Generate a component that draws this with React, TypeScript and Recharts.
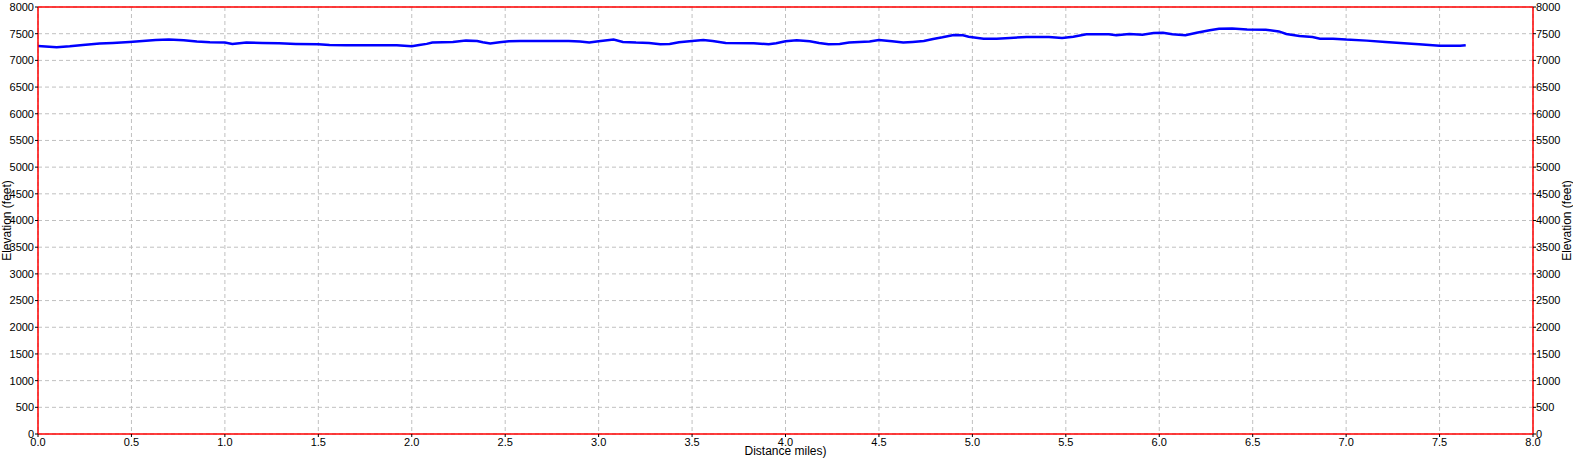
import { LineChart, Line, XAxis, YAxis, CartesianGrid, ReferenceLine } from 'recharts'

// distance along the trail (miles) and elevation (feet)
const distance = [
  0, 0.1, 0.17, 0.24, 0.33, 0.4, 0.49, 0.56, 0.63, 0.7, 0.78, 0.85, 0.92, 1.0, 1.04, 1.115, 1.2, 1.29,
  1.38, 1.5, 1.56, 1.65, 1.92, 2.0, 2.04, 2.08, 2.11, 2.22, 2.29, 2.35, 2.38, 2.42, 2.47, 2.52, 2.58,
  2.84, 2.9, 2.95, 3.0, 3.08, 3.13, 3.2, 3.27, 3.33, 3.38, 3.43, 3.5, 3.56, 3.61, 3.68, 3.83, 3.91,
  3.95, 4.0, 4.06, 4.13, 4.18, 4.23, 4.29, 4.34, 4.45, 4.5, 4.57, 4.63, 4.68, 4.74, 4.79, 4.84, 4.9,
  4.95, 4.98, 5.06, 5.13, 5.2, 5.29, 5.41, 5.48, 5.54, 5.61, 5.73, 5.77, 5.84, 5.91, 5.97, 6.02, 6.07,
  6.14, 6.2, 6.27, 6.32, 6.39, 6.47, 6.57, 6.64, 6.68, 6.75, 6.82, 6.86, 6.93, 7.0, 7.11, 7.21, 7.29,
  7.39, 7.5, 7.61, 7.64,
]
const elevation = [
  7268, 7247, 7265, 7290, 7315, 7327, 7346, 7364, 7383, 7389, 7377, 7352, 7340, 7333, 7309, 7333, 7327,
  7321, 7309, 7302, 7290, 7284, 7284, 7265, 7288, 7309, 7333, 7346, 7370, 7364, 7340, 7315, 7340, 7358,
  7364, 7364, 7352, 7333, 7358, 7389, 7346, 7333, 7327, 7302, 7309, 7340, 7364, 7383, 7364, 7327, 7321,
  7302, 7321, 7358, 7377, 7358, 7327, 7302, 7309, 7333, 7352, 7383, 7358, 7333, 7346, 7364, 7401, 7432,
  7475, 7469, 7444, 7407, 7407, 7420, 7438, 7438, 7420, 7444, 7488, 7488, 7469, 7494, 7481, 7512, 7518,
  7488, 7469, 7518, 7565, 7593, 7599, 7580, 7574, 7543, 7494, 7457, 7438, 7407, 7407, 7389, 7370, 7346,
  7327, 7302, 7272, 7272, 7284,
]
const xTicks = [0, 0.5, 1, 1.5, 2, 2.5, 3, 3.5, 4, 4.5, 5, 5.5, 6, 6.5, 7, 7.5, 8]
const yTicks = [
  0, 500, 1000, 1500, 2000, 2500, 3000, 3500, 4000, 4500, 5000, 5500, 6000, 6500, 7000, 7500, 8000,
]

const data = distance.map((d, i) => ({ d, elev: elevation[i] }))

const RED = '#ff0000'
const tick = { fill: '#000', fontSize: 11 }
const titleStyle = { fill: '#000', fontSize: 12, textAnchor: 'middle' as const }

export default function App() {
  return (
    <div style={{ position: 'absolute', left: 0, top: 0, background: '#fff', fontFamily: '"Liberation Sans", Arial, sans-serif' }}>
      <LineChart width={1573} height={459} data={data} margin={{ top: 7, right: 0, bottom: 0, left: 0 }}>
        <CartesianGrid yAxisId="left" stroke="#c0c0c0" strokeDasharray="4 3" />
        <XAxis
          dataKey="d"
          type="number"
          domain={[0, 8]}
          ticks={xTicks}
          tickFormatter={(v) => v.toFixed(1)}
          height={25}
          tick={tick}
          tickSize={3}
          tickMargin={1}
          interval={0}
          axisLine={{ stroke: RED, strokeWidth: 1.5 }}
          tickLine={{ stroke: '#000' }}
          label={{ value: 'Distance miles)', position: 'insideBottom', offset: 4, style: titleStyle }}
        />
        <YAxis
          yAxisId="left"
          domain={[0, 8000]}
          ticks={yTicks}
          interval={0}
          width={38}
          tick={tick}
          tickSize={3}
          tickMargin={1}
          axisLine={{ stroke: RED, strokeWidth: 1.5 }}
          tickLine={{ stroke: '#000' }}
          label={{ value: 'Elevation (feet)', angle: -90, position: 'insideLeft', offset: 7, style: titleStyle }}
        />
        <YAxis
          yAxisId="right"
          orientation="right"
          domain={[0, 8000]}
          ticks={yTicks}
          interval={0}
          width={40}
          tick={tick}
          tickSize={3}
          tickMargin={0}
          axisLine={{ stroke: RED, strokeWidth: 1.5 }}
          tickLine={{ stroke: '#000' }}
          label={{ value: 'Elevation (feet)', angle: -90, position: 'insideRight', offset: 6, style: titleStyle }}
        />
        <ReferenceLine yAxisId="left" y={8000} stroke={RED} strokeWidth={1.5} />
        {/* invisible copy so the right axis has a series bound to it */}
        <Line
          yAxisId="right"
          dataKey="elev"
          stroke="none"
          dot={false}
          activeDot={false}
          legendType="none"
          isAnimationActive={false}
        />
        <Line
          yAxisId="left"
          dataKey="elev"
          type="linear"
          stroke="#0000ff"
          strokeWidth={2.5}
          dot={false}
          isAnimationActive={false}
        />
      </LineChart>
    </div>
  )
}
